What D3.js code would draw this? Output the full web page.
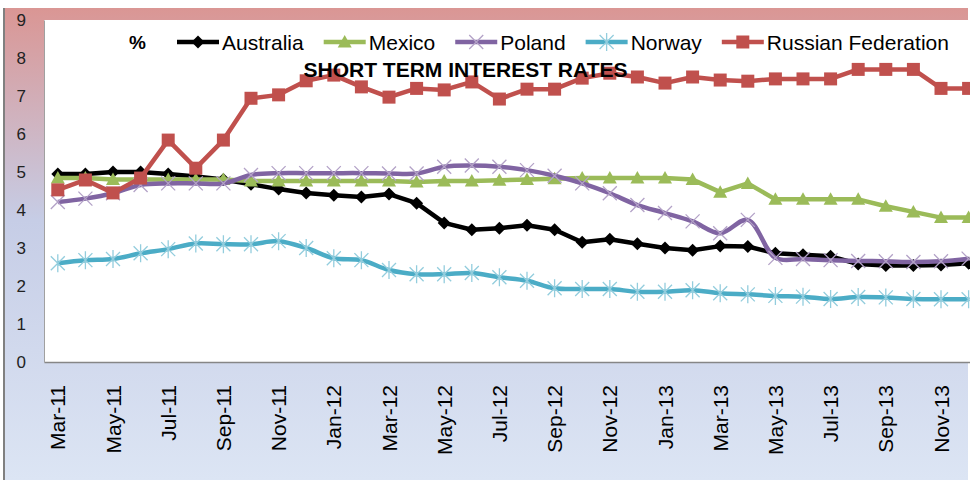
<!DOCTYPE html>
<html lang="en">
	<head>
		<meta charset="utf-8">
		<title>Short term interest rates</title>
		<script src="https://d3js.org/d3.v7.min.js"></script>
		<style type="text/css">
			body { margin: 0; background: #fff; }
			svg text { font-family: "Liberation Sans", Arial, sans-serif; }
		</style>
	</head>
	<body>
		<script type="text/javascript">
			//Data, monthly Mar-11 .. Dec-13
			let months = ["Mar-11","Apr-11","May-11","Jun-11","Jul-11","Aug-11","Sep-11","Oct-11","Nov-11","Dec-11",
			              "Jan-12","Feb-12","Mar-12","Apr-12","May-12","Jun-12","Jul-12","Aug-12","Sep-12","Oct-12","Nov-12","Dec-12",
			              "Jan-13","Feb-13","Mar-13","Apr-13","May-13","Jun-13","Jul-13","Aug-13","Sep-13","Oct-13","Nov-13","Dec-13"];
			let australia = [4.95,4.95,5.0,5.0,4.95,4.88,4.8,4.68,4.55,4.45,4.39,4.34,4.42,4.18,3.66,3.48,3.52,3.6,3.48,3.15,3.23,3.11,
			                 3.0,2.94,3.05,3.04,2.86,2.82,2.78,2.58,2.54,2.54,2.55,2.6];
			let mexico = [4.84,4.84,4.8,4.8,4.8,4.8,4.8,4.76,4.76,4.76,4.76,4.76,4.76,4.74,4.76,4.76,4.78,4.8,4.82,4.84,4.84,4.84,
			              4.84,4.8,4.47,4.7,4.28,4.28,4.28,4.28,4.1,3.95,3.8,3.8];
			let poland = [4.21,4.3,4.44,4.66,4.7,4.7,4.7,4.92,4.97,4.97,4.97,4.97,4.96,4.96,5.14,5.17,5.14,5.05,4.9,4.7,4.44,4.13,
			              3.92,3.7,3.39,3.74,2.74,2.71,2.68,2.66,2.65,2.63,2.65,2.72];
			let norway = [2.6,2.68,2.71,2.86,2.97,3.12,3.1,3.1,3.18,3.0,2.73,2.68,2.42,2.31,2.31,2.34,2.23,2.14,1.94,1.92,1.92,1.85,
			              1.85,1.89,1.81,1.78,1.74,1.72,1.66,1.71,1.7,1.66,1.65,1.65];
			let russia = [4.53,4.79,4.45,4.84,5.84,5.1,5.84,6.94,7.03,7.4,7.55,7.24,6.97,7.2,7.16,7.37,6.92,7.18,7.18,7.47,7.6,7.5,
			              7.34,7.5,7.42,7.39,7.45,7.45,7.45,7.7,7.7,7.7,7.2,7.2];
			let yTicks = [0,1,2,3,4,5,6,7,8,9];
			let xTicks = months.filter(function(d, i) { return i % 2 === 0; });

			let series = [
				{ name: "Australia", values: australia, line: "#000000", mark: "#000000", shape: "diamond", smooth: false },
				{ name: "Mexico", values: mexico, line: "#9bbb59", mark: "#9bbb59", shape: "triangle", smooth: false },
				{ name: "Poland", values: poland, line: "#8064a2", mark: "#b3a2c7", shape: "cross", smooth: true },
				{ name: "Norway", values: norway, line: "#4bacc6", mark: "#93cddd", shape: "star", smooth: true },
				{ name: "Russian Federation", values: russia, line: "#c0504d", mark: "#c0504d", shape: "square", smooth: false }
			];

			//Width, height and plot box
			let w = 970;
			let h = 480;
			let plotLeft = 44;
			let plotTop = 20;
			let plotBottom = 362;
			let step = 27.6;
			let plotRight = plotLeft + step * months.length;	//runs past the right edge

			let xScale = d3.scaleBand()
							.domain(months)
							.range([plotLeft, plotRight]);
			let yScale = d3.scaleLinear()
							.domain([0, 9])
							.range([plotBottom, plotTop]);
			let cx = function(i) { return xScale(months[i]) + xScale.bandwidth() / 2; };

			let svg = d3.select("body")
						.append("svg")
						.attr("width", w)
						.attr("height", h);

			//Background gradient
			let grad = svg.append("defs").append("linearGradient")
						.attr("id", "bg")
						.attr("x1", 0).attr("y1", 0).attr("x2", 0).attr("y2", 1);
			grad.append("stop").attr("offset", "0%").attr("stop-color", "#da9694");
			grad.append("stop").attr("offset", "45%").attr("stop-color", "#c6cde6");
			grad.append("stop").attr("offset", "100%").attr("stop-color", "#dce5f4");

			svg.append("rect")
				.attr("x", 3).attr("y", 8)
				.attr("width", 965).attr("height", h - 8)
				.attr("fill", "url(#bg)");
			svg.append("line")
				.attr("x1", 4).attr("x2", 4)
				.attr("y1", 8).attr("y2", h)
				.attr("stroke", "#808080")
				.attr("stroke-width", 2);

			//Plot area
			svg.append("rect")
				.attr("x", plotLeft).attr("y", plotTop)
				.attr("width", plotRight - plotLeft)
				.attr("height", plotBottom - plotTop)
				.attr("fill", "#fff");

			//Axes
			let xAxis = d3.axisBottom(xScale)
							.tickValues(xTicks)
							.tickSize(0)
							.tickSizeOuter(0);
			let yAxis = d3.axisLeft(yScale)
							.tickValues(yTicks)
							.tickSize(0)
							.tickSizeOuter(0)
							.tickPadding(18);

			let gx = svg.append("g")
				.attr("class", "x axis")
				.attr("transform", "translate(0," + plotBottom + ")")
				.call(xAxis);
			gx.select(".domain").attr("stroke", "#868686").attr("stroke-width", 1.5);
			gx.selectAll("text")
				.attr("font-family", null)
				.style("font-size", "21px")
				.attr("fill", "#000")
				.attr("transform", "rotate(-90)")
				.attr("x", -23)
				.attr("y", 0)
				.attr("dy", "0.36em")
				.style("text-anchor", "end");

			let gy = svg.append("g")
				.attr("class", "y axis")
				.attr("transform", "translate(" + plotLeft + ",0)")
				.call(yAxis);
			gy.select(".domain").attr("stroke", "#a0a0a0").attr("stroke-width", 1);
			gy.selectAll("text")
				.style("font-size", "17px")
				.attr("fill", "#222");

			//Marker shapes
			function markerPath(shape) {
				if (shape === "diamond") return "M0,-6.5L6.5,0L0,6.5L-6.5,0Z";
				if (shape === "triangle") return "M0,-7L7,5.5L-7,5.5Z";
				if (shape === "square") return "M-6.5,-6.5H6.5V6.5H-6.5Z";
				if (shape === "cross") return "M-7,-7L7,7M7,-7L-7,7";
				return "M-7,-7L7,7M7,-7L-7,7M0,-9V9";
			}
			function drawMarker(sel, s) {
				let stroked = s.shape === "cross" || s.shape === "star";
				sel.attr("d", markerPath(s.shape))
					.attr("fill", stroked ? "none" : s.mark)
					.attr("stroke", stroked ? s.mark : "none")
					.attr("stroke-width", stroked ? 1.3 : 0);
			}

			//Series lines and markers
			series.forEach(function(s) {
				let line = d3.line()
							.x(function(d, i) { return cx(i); })
							.y(function(d) { return yScale(d); })
							.curve(s.smooth ? d3.curveCatmullRom.alpha(0.5) : d3.curveLinear);
				let g = svg.append("g").attr("class", "series");
				g.append("path")
					.datum(s.values)
					.attr("d", line)
					.attr("fill", "none")
					.attr("stroke", s.line)
					.attr("stroke-width", 4.5)
					.attr("stroke-linejoin", "round");
				g.selectAll("path.mk")
					.data(s.values)
					.enter()
					.append("path")
					.attr("class", "mk")
					.attr("transform", function(d, i) { return "translate(" + cx(i) + "," + yScale(d) + ")"; })
					.call(drawMarker, s);
			});

			//Title
			svg.append("text")
				.attr("x", 465.5)
				.attr("y", 77)
				.attr("text-anchor", "middle")
				.style("font-size", "21px")
				.style("font-weight", "bold")
				.text("SHORT TERM INTEREST RATES");

			//Legend
			let legY = 42;
			svg.append("text")
				.attr("x", 129)
				.attr("y", legY + 7)
				.style("font-size", "19px")
				.style("font-weight", "bold")
				.text("%");
			let lx = 177;
			series.forEach(function(s) {
				let g = svg.append("g").attr("class", "legend");
				g.append("line")
					.attr("x1", lx).attr("x2", lx + 42)
					.attr("y1", legY).attr("y2", legY)
					.attr("stroke", s.line)
					.attr("stroke-width", 4.5);
				g.append("path")
					.attr("transform", "translate(" + (lx + 21) + "," + legY + ")")
					.call(drawMarker, s);
				let t = g.append("text")
					.attr("x", lx + 45)
					.attr("y", legY + 7.5)
					.style("font-size", "21px")
					.attr("fill", "#000")
					.text(s.name);
				lx = lx + 45 + t.node().getComputedTextLength() + 20;
			});
		</script>
	</body>
</html>
